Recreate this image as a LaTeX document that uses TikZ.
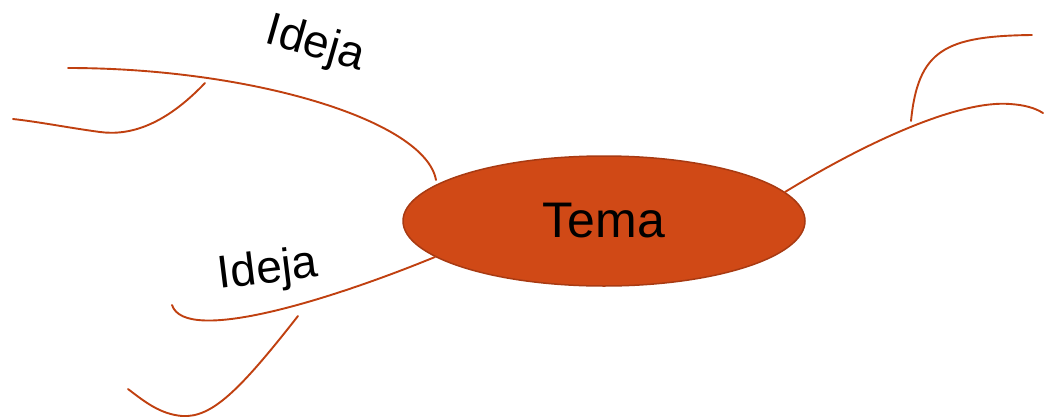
\documentclass[tikz,border=0pt]{standalone}
\usepackage{fontspec}
\setmainfont{Liberation Sans}
\usetikzlibrary{shapes.geometric}
\definecolor{temafill}{HTML}{D04916}
\definecolor{temaedge}{HTML}{A83A12}
\definecolor{branch}{HTML}{C04010}
\begin{document}
\begin{tikzpicture}[x=1pt,y=-1pt,
  branchline/.style={draw=branch,line width=1.9pt,line cap=round},
  idea/.style={font=\fontsize{46}{46}\selectfont,inner sep=0pt}]
\useasboundingbox (0,0) rectangle (1044,418);
\node[ellipse,draw=temaedge,line width=1.5pt,fill=temafill,minimum width=402pt,minimum height=130pt,inner sep=0pt,
  font=\fontsize{50}{50}\selectfont] (tema) at (604,221) {Tema};
% coordinates
\coordinate (tl0) at (436,180);
\coordinate (tl1) at (68,68);
\coordinate (tlb0) at (205,83);
\coordinate (tlb1) at (13,119);
\coordinate (bl0) at (435,257);
\coordinate (bl1) at (172,305);
\coordinate (blb0) at (298,316);
\coordinate (blb1) at (128,389);
\coordinate (r0) at (785,192);
\coordinate (r1) at (1043,113);
\coordinate (rb0) at (911,121);
\coordinate (rb1) at (1032,35);
% branches
\draw[branchline] (tl0) .. controls (425,120) and (250,68) .. (tl1);
\draw[branchline] (tlb0) .. controls (165,125) and (130,136) .. (100,132) .. controls (70,128) and (40,122) .. (tlb1);
\draw[branchline] (bl0) .. controls (330,300) and (185,345) .. (bl1);
\draw[branchline] (blb0) .. controls (240,390) and (212,418) .. (182,416) .. controls (160,414) and (145,402) .. (blb1);
\draw[branchline] (r0) .. controls (870,140) and (960,100) .. (1010,104) .. controls (1025,105) and (1035,108) .. (r1);
\draw[branchline] (rb0) .. controls (918,50) and (945,36) .. (rb1);
% labels
\node[idea,rotate=-16] (idea1) at (315,45) {Ideja};
\node[idea,rotate=7] (idea2) at (268,271) {Ideja};
\end{tikzpicture}
\end{document}
